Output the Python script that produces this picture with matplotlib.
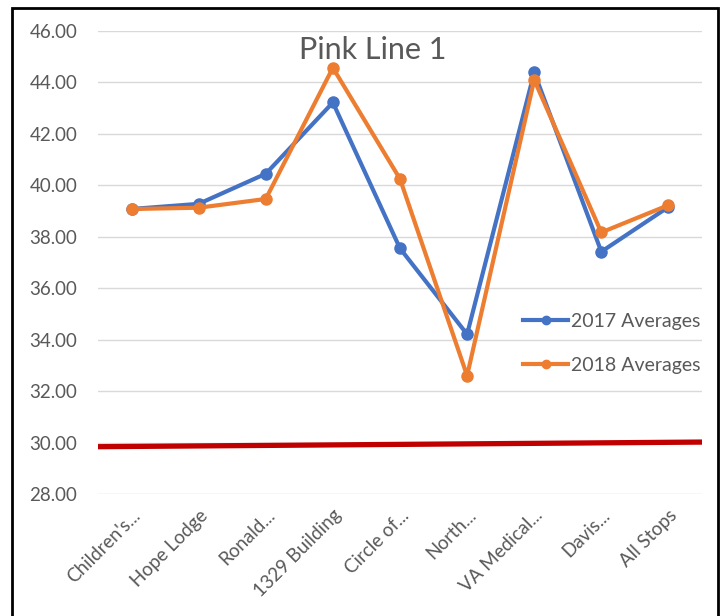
import matplotlib
matplotlib.use("Agg")
import matplotlib.pyplot as plt
from matplotlib.patches import Rectangle

plt.rcParams['font.family'] = ['Lato', 'DejaVu Sans']

stops = ["Children's...", "Hope Lodge", "Ronald...", "1329 Building", "Circle of...",
         "North...", "VA Medical...", "Davis...", "All Stops"]
avg_2017 = [39.08, 39.28, 40.45, 43.22, 37.55, 34.21, 44.39, 37.42, 39.16]
avg_2018 = [39.08, 39.13, 39.47, 44.57, 40.25, 32.60, 44.10, 38.17, 39.23]
target_x = [-0.5, 8.5]
target_y = [29.84, 30.02]
y_ticks = [28, 30, 32, 34, 36, 38, 40, 42, 44, 46]

gray = '#595959'
fig = plt.figure(figsize=(7.22, 6.16), dpi=100)
ax = fig.add_axes([0.1357, 0.198, 0.8366, 0.7517])

x = list(range(len(stops)))
ax.plot(target_x, target_y, color='#C00000', lw=3.8, solid_capstyle='butt', zorder=2)
ax.plot(x, avg_2017, color='#4472C4', lw=3, marker='o', ms=8, label='2017 Averages', zorder=3)
ax.plot(x, avg_2018, color='#ED7D31', lw=3, marker='o', ms=8, label='2018 Averages', zorder=4)

ax.set_xlim(-0.5, 8.5)
ax.set_ylim(28, 46)
ax.set_yticks(y_ticks)
ax.set_yticklabels([f"{v:.2f}" for v in y_ticks], color=gray, fontsize=13.5)
ax.set_xticks(x)
ax.set_xticklabels(stops, rotation=45, ha='right', rotation_mode='anchor',
                   color=gray, fontsize=13.5)
ax.tick_params(axis='y', length=0, pad=15)
ax.tick_params(axis='x', length=0, pad=9)
ax.grid(axis='y', color='#D9D9D9', lw=1)
ax.set_axisbelow(True)
for s in ax.spines.values():
    s.set_visible(False)

ax.text(3.6, 45.25, 'Pink Line 1', ha='center', va='center',
        fontsize=22, color=gray)

leg = ax.legend(loc='center left', bbox_to_anchor=(0.675, 0.325), frameon=False,
                fontsize=14, handlelength=2.3, handletextpad=0.15,
                labelspacing=1.4, markerscale=0.75)
for t in leg.get_texts():
    t.set_color(gray)

fig.patches.append(Rectangle((12 / 722, -0.02), 706 / 722, 1 - 8 / 616 + 0.02,
                             transform=fig.transFigure, fill=False,
                             edgecolor='black', lw=2))

fig.savefig('out.png', dpi=100)
